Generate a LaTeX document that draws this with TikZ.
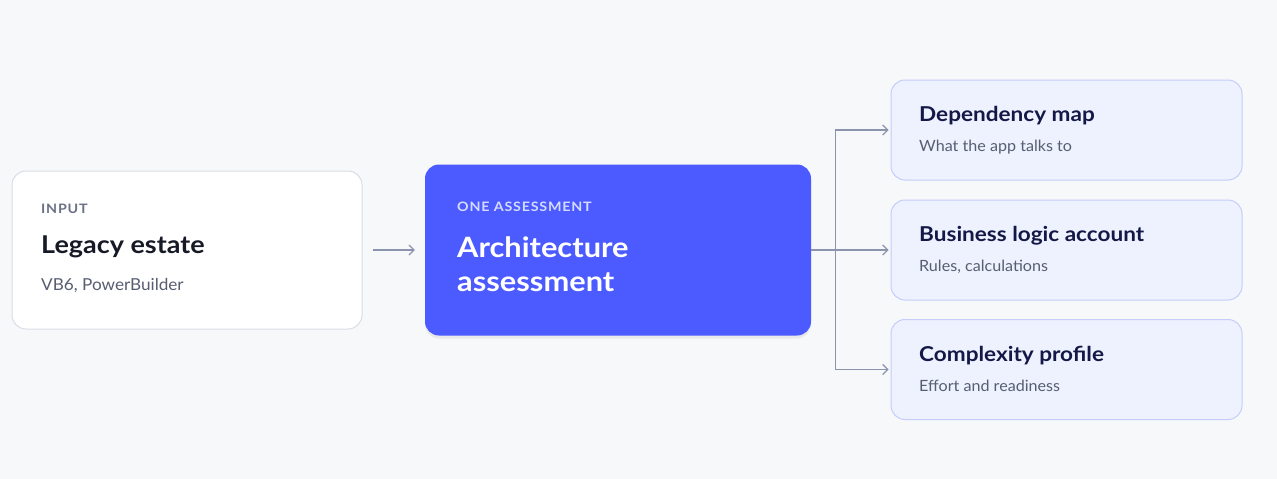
\documentclass[tikz,border=0pt]{standalone}
\usepackage{fontspec}
\setmainfont{Lato}[UprightFeatures={FakeStretch=1.04}, BoldFeatures={FakeStretch=1.1}]
\usetikzlibrary{arrows.meta,shadows}

\definecolor{pagebg}{HTML}{F7F8FA}
\definecolor{cardline}{HTML}{DADDE6}
\definecolor{assessblue}{HTML}{4B5BFF}
\definecolor{outfill}{HTML}{EEF2FF}
\definecolor{outline}{HTML}{C6CDFA}
\definecolor{connector}{HTML}{8C94AD}
\definecolor{labelgray}{HTML}{6B7285}
\definecolor{titleink}{HTML}{161A26}
\definecolor{navyink}{HTML}{141846}
\definecolor{subink}{HTML}{575E72}
\definecolor{kickerblue}{HTML}{D5DAFF}

\newfontfamily\kickerfont{Lato}[BoldFeatures={FakeStretch=1.1}, LetterSpace=6]

\tikzset{
  card/.style={draw=cardline, line width=1pt, fill=white, rounded corners=14pt, minimum width=350pt, minimum height=158pt},
  assessbox/.style={fill=assessblue, rounded corners=14pt, minimum width=386pt, minimum height=171pt,
    drop shadow={opacity=0.12, shadow xshift=0pt, shadow yshift=-3pt}},
  outbox/.style={draw=outline, line width=1pt, fill=outfill, rounded corners=14pt, minimum width=351pt, minimum height=100pt},
  conn/.style={draw=connector, line width=1.2pt, -{Straight Barb[length=5pt,width=10pt]}},
  kicker/.style={anchor=base west, inner sep=0pt, font=\kickerfont\fontsize{13}{13}\selectfont\bfseries},
  bigtitle/.style={anchor=base west, inner sep=0pt, font=\fontsize{24.5}{24.5}\selectfont\bfseries},
  outtitle/.style={anchor=base west, inner sep=0pt, text=navyink, font=\fontsize{20.5}{20.5}\selectfont\bfseries},
  subtext/.style={anchor=base west, inner sep=0pt, text=subink, font=\fontsize{15.5}{15.5}\selectfont},
}

\begin{document}
\begin{tikzpicture}[x=1pt,y=-1pt]
    \fill[pagebg] (0,0) rectangle (1277,479);
    \useasboundingbox (0,0) rectangle (1277,479);
    % input card
    \node[card] (input) at (187,250) {};
    \node[kicker, text=labelgray] (inputkicker) at (41,213) {INPUT};
    \node[bigtitle, text=titleink] (inputtitle) at (41,253) {Legacy estate};
    \node[subtext, font=\fontsize{16.5}{16.5}\selectfont] (inputsub) at (41,290) {VB6, PowerBuilder};
    % assessment
    \node[assessbox] (assess) at (618,250) {};
    \node[kicker, text=kickerblue] (assesskicker) at (457,211) {ONE ASSESSMENT};
    \node[bigtitle, text=white, font=\fontsize{28}{28}\selectfont\bfseries] (assesstitle) at (457,257) {Architecture};
    \node[bigtitle, text=white, font=\fontsize{28}{28}\selectfont\bfseries] (assesstitleb) at (457,291) {assessment};
    % outputs
    \node[outbox] (dep) at (1066.5,130) {};
    \node[outtitle] (deptitle) at (919,121) {Dependency map};
    \node[subtext] (depsub) at (919,151) {What the app talks to};
    \node[outbox] (logic) at (1066.5,250) {};
    \node[outtitle] (logictitle) at (919,241) {Business logic account};
    \node[subtext] (logicsub) at (919,271) {Rules, calculations};
    \node[outbox] (cplx) at (1066.5,369.5) {};
    \node[outtitle] (cplxtitle) at (919,361) {Complexity profile};
    \node[subtext] (cplxsub) at (919,391) {Effort and readiness};
    % connectors
    \draw[conn, shorten <=10pt, shorten >=10pt] (input.east) -- (assess.west);
    \draw[conn, shorten >=2pt] (assess.east) -- (logic.west);
    \draw[conn, shorten >=2pt] (assess.east) -- ++(24,0) |- (dep.west);
    \draw[conn, shorten >=2pt] (assess.east) -- ++(24,0) |- (cplx.west);
\end{tikzpicture}
\end{document}
